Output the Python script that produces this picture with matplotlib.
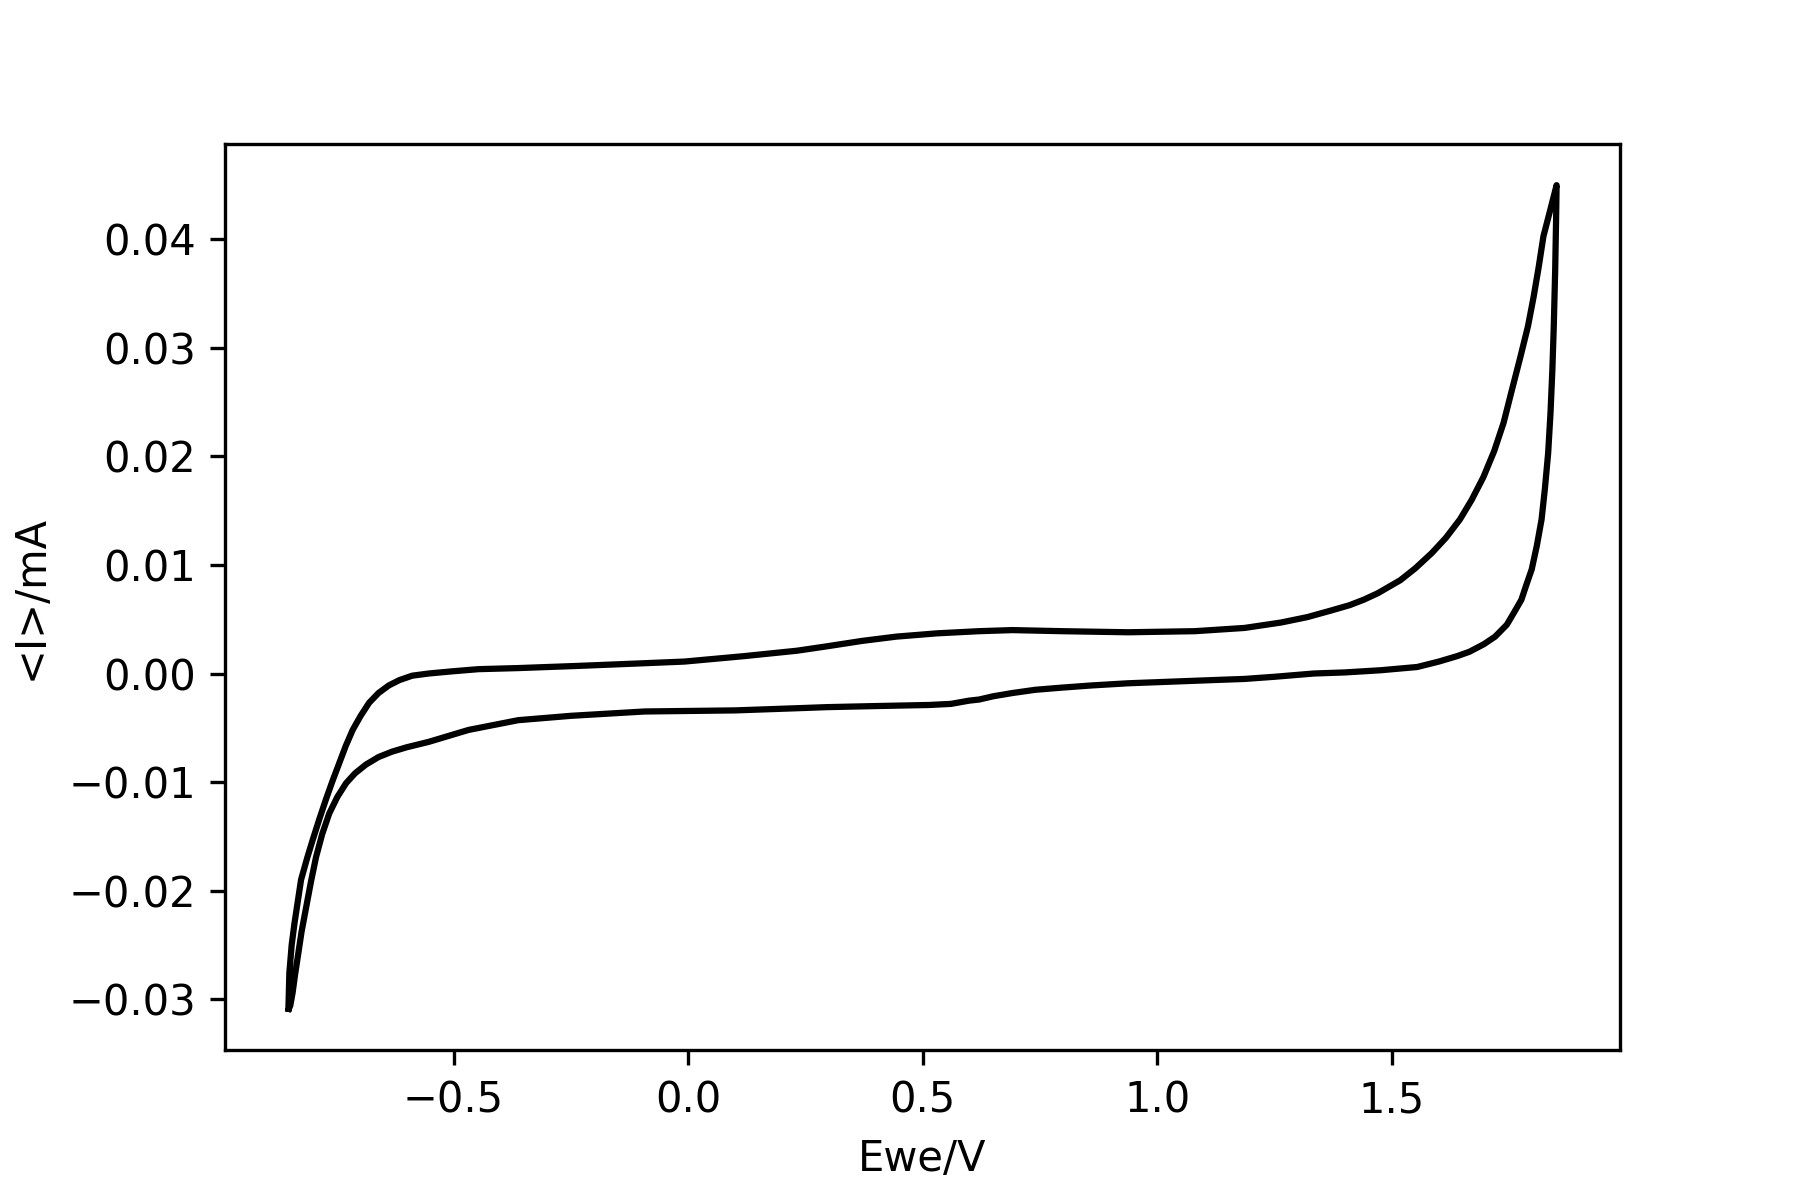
import matplotlib
matplotlib.use("Agg")
import matplotlib.pyplot as plt

# forward (anodic) sweep
ewe_fwd = [-0.852, -0.850, -0.845, -0.839, -0.825, -0.812, -0.800, -0.786, -0.772, -0.758,
           -0.744, -0.730, -0.715, -0.698, -0.680, -0.660, -0.638, -0.615, -0.588, -0.553,
           -0.503, -0.447, -0.362, -0.235, -0.120, -0.008, 0.119, 0.232, 0.295, 0.370,
           0.444, 0.530, 0.620, 0.691, 0.797, 0.938, 1.080, 1.186, 1.264, 1.320,
           1.370, 1.410, 1.440, 1.470, 1.518, 1.550, 1.585, 1.615, 1.645, 1.670,
           1.695, 1.718, 1.738, 1.755, 1.774, 1.790, 1.802, 1.813, 1.823, 1.838,
           1.851]
i_fwd = [-0.0309, -0.0276, -0.0250, -0.0230, -0.0190, -0.0170, -0.0153, -0.0134, -0.0116, -0.0099,
         -0.0083, -0.0067, -0.0052, -0.0039, -0.0027, -0.0018, -0.0011, -0.0006, -0.0002, 0.0000,
         0.0002, 0.0004, 0.0005, 0.0007, 0.0009, 0.0011, 0.0016, 0.0021, 0.0025, 0.0030,
         0.0034, 0.0037, 0.0039, 0.0040, 0.0039, 0.0038, 0.0039, 0.0042, 0.0047, 0.0052,
         0.0058, 0.0063, 0.0068, 0.0074, 0.0086, 0.0097, 0.0111, 0.0125, 0.0142, 0.0160,
         0.0181, 0.0205, 0.0231, 0.0260, 0.0292, 0.0320, 0.0347, 0.0375, 0.0403, 0.0428,
         0.0450]

# reverse (cathodic) sweep
ewe_rev = [1.851, 1.850, 1.848, 1.845, 1.842, 1.838, 1.833, 1.826, 1.819, 1.809,
           1.798, 1.786, 1.776, 1.760, 1.745, 1.720, 1.696, 1.665, 1.639, 1.600,
           1.554, 1.476, 1.400, 1.334, 1.250, 1.186, 1.122, 1.000, 0.938, 0.860,
           0.797, 0.740, 0.691, 0.650, 0.620, 0.599, 0.560, 0.514, 0.400, 0.295,
           0.232, 0.100, -0.093, -0.250, -0.362, -0.468, -0.553, -0.600, -0.631, -0.660,
           -0.687, -0.710, -0.729, -0.748, -0.765, -0.780, -0.793, -0.804, -0.814, -0.824,
           -0.832, -0.838, -0.843, -0.848, -0.851]
i_rev = [0.0450, 0.0420, 0.0372, 0.0320, 0.0280, 0.0240, 0.0203, 0.0170, 0.0142, 0.0118,
         0.0096, 0.0081, 0.0068, 0.0056, 0.0045, 0.0034, 0.0027, 0.0020, 0.0016, 0.0011,
         0.0006, 0.0003, 0.0001, 0.0000, -0.0003, -0.0005, -0.0006, -0.0008, -0.0009, -0.0011,
         -0.0013, -0.0015, -0.0018, -0.0021, -0.0024, -0.0025, -0.0028, -0.0029, -0.0030, -0.0031,
         -0.0032, -0.0034, -0.0035, -0.0039, -0.0043, -0.0052, -0.0063, -0.0068, -0.0072, -0.0077,
         -0.0084, -0.0092, -0.0101, -0.0114, -0.0129, -0.0148, -0.0169, -0.0192, -0.0215, -0.0238,
         -0.0261, -0.0278, -0.0294, -0.0306, -0.0309]

fig, ax = plt.subplots(figsize=(6, 4), dpi=300)
fig.subplots_adjust(left=0.125, right=0.9, top=0.88, bottom=0.125)
ax.plot(ewe_fwd + ewe_rev, i_fwd + i_rev, color="black", linewidth=1.5)
ax.set_xlabel("Ewe/V")
ax.set_ylabel("<I>/mA")
fig.savefig("out.png", dpi=300)
